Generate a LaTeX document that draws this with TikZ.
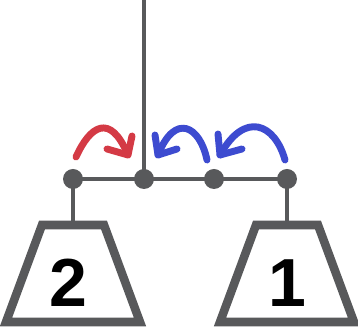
\documentclass[tikz,border=0pt]{standalone}
\usepackage{fontspec}
\setmainfont{Liberation Sans}
\definecolor{gr}{HTML}{58595B}
\definecolor{rd}{HTML}{D43A45}
\definecolor{bl}{HTML}{3D4BD0}
\begin{document}
\begin{tikzpicture}[x=0.75pt,y=-0.75pt,
  dot/.style={circle,fill=gr,inner sep=0pt,minimum size=15pt},
  bar/.style={draw=gr,line width=3pt},
  weight/.style={draw=gr,line width=6.4pt,line join=miter},
  digit/.style={anchor=base,font=\bfseries\fontsize{51}{51}\selectfont,inner sep=0pt},
  swoop/.style={line width=5.2pt,line cap=round,line join=round}]
\useasboundingbox (0,0) rectangle (358,334);
\coordinate (top) at (144,0);
\node[dot] (d1) at (73,179) {};
\node[dot] (d2) at (144,179) {};
\node[dot] (d3) at (214,179) {};
\node[dot] (d4) at (287,179) {};
\draw[bar] (d1.center) -- (d4.center);
\draw[bar] (top) -- (d2.center);
% weights
\coordinate (w2) at (73,221);
\coordinate (w1) at (287,221);
\draw[bar] (d1.center) -- (w2);
\draw[bar] (d4.center) -- (w1);
\draw[weight] (42,225) -- (104,225) -- (140,322) -- (6,322) -- cycle;
\draw[weight] (256,225) -- (318,225) -- (354,322) -- (220,322) -- cycle;
\node[digit] (n2) at (68,307) {2};
\node[digit] (n1) at (287,307) {1};
% arrows
\draw[swoop,rd] (76,157) .. controls (90,126) and (110,112) .. (128,155);
\draw[swoop,rd] (107,149) -- (128,155) -- (132,136);
\draw[swoop,bl] (207,160) .. controls (200,126) and (175,112) .. (158,155);
\draw[swoop,bl] (177,149) -- (158,155) -- (155,135);
\draw[swoop,bl] (285,160) .. controls (275,124) and (245,110) .. (220,155);
\draw[swoop,bl] (242,149) -- (220,155) -- (218,134);
\end{tikzpicture}
\end{document}
